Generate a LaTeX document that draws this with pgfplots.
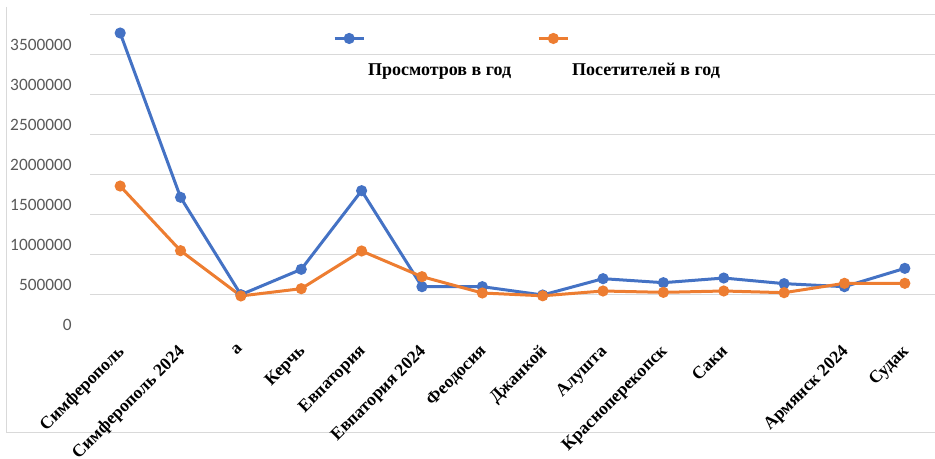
\documentclass[border=0pt]{standalone}
\usepackage{pgfplots}
\pgfplotsset{compat=1.18}
\usepackage{fontspec}
\setmainfont{Liberation Serif}
\newfontfamily\carlito{Carlito}
\definecolor{cblue}{HTML}{4472C4}
\definecolor{corange}{HTML}{ED7D31}
\definecolor{cgrid}{HTML}{D9D9D9}
\definecolor{ctick}{HTML}{595959}
\begin{document}
\begin{tikzpicture}[x=1pt,y=1pt]
\useasboundingbox (-67.5,-93) rectangle (633.75,251.25);
\draw[cgrid, line width=0.75pt] (-62.25,246) -- (-62.25,-73.5) -- (633.75,-73.5);
\begin{axis}[
  at={(0,0)}, anchor=south west,
  scale only axis, width=633.75pt, height=240pt,
  xmin=-0.5, xmax=13.5, ymin=0, ymax=4000000,
  axis line style={draw=none},
  major tick length=0pt,
  xtick={0,...,13},
  xticklabels={Симферополь, Симферополь 2024, а, Керчь, Евпатория, Евпатория 2024, Феодосия, Джанкой, Алушта, Красноперекопск, Саки, {}, Армянск 2024, Судак},
  xticklabel style={font=\bfseries\fontsize{13.2}{16}\selectfont, rotate=45, anchor=north east, inner sep=1pt, xshift=-5.5pt, yshift=-1.5pt},
  scaled y ticks=false,
  ytick={0,500000,1000000,1500000,2000000,2500000,3000000,3500000},
  yticklabels={0,500000,1000000,1500000,2000000,2500000,3000000,3500000},
  yticklabel style={font=\carlito\fontsize{13}{15}\selectfont, text=ctick, anchor=east, inner sep=0pt, xshift=-13.5pt, yshift=7.5pt},
  extra y ticks={500000,1000000,1500000,2000000,2500000,3000000,3500000,4000000},
  extra y tick labels={},
  extra y tick style={grid=major, major grid style={cgrid, line width=0.75pt}},
  legend columns=2,
  legend style={draw=none, fill=none, inner sep=0pt, at={(0.2873,0.94)}, anchor=north west,
    font=\bfseries\fontsize{13.5}{16}\selectfont,
    /tikz/every even column/.append style={column sep=17.5pt},
    /tikz/every odd column/.append style={column sep=0pt}},
  legend image code/.code={\draw[#1, mark repeat=2, mark phase=2] plot coordinates {(0pt,24pt) (11pt,24pt) (22pt,24pt)};},
]
\addplot[cblue, line width=2.25pt, mark=*, mark size=3pt, mark options={fill=cblue, draw=cblue}] coordinates {
(0,3775000) (1,1721000) (2,504000) (3,821000) (4,1804000) (5,604000) (6,604000)
(7,500000) (8,704000) (9,654000) (10,712000) (11,642000) (12,604000) (13,833000)};
\addlegendentry{Просмотров в год}
\addplot[corange, line width=2.25pt, mark=*, mark size=3pt, mark options={fill=corange, draw=corange}] coordinates {
(0,1862000) (1,1054000) (2,488000) (3,579000) (4,1050000) (5,729000) (6,525000)
(7,490000) (8,550000) (9,533000) (10,550000) (11,529000) (12,646000) (13,646000)};
\addlegendentry{Посетителей в год}
\end{axis}
\end{tikzpicture}
\end{document}
